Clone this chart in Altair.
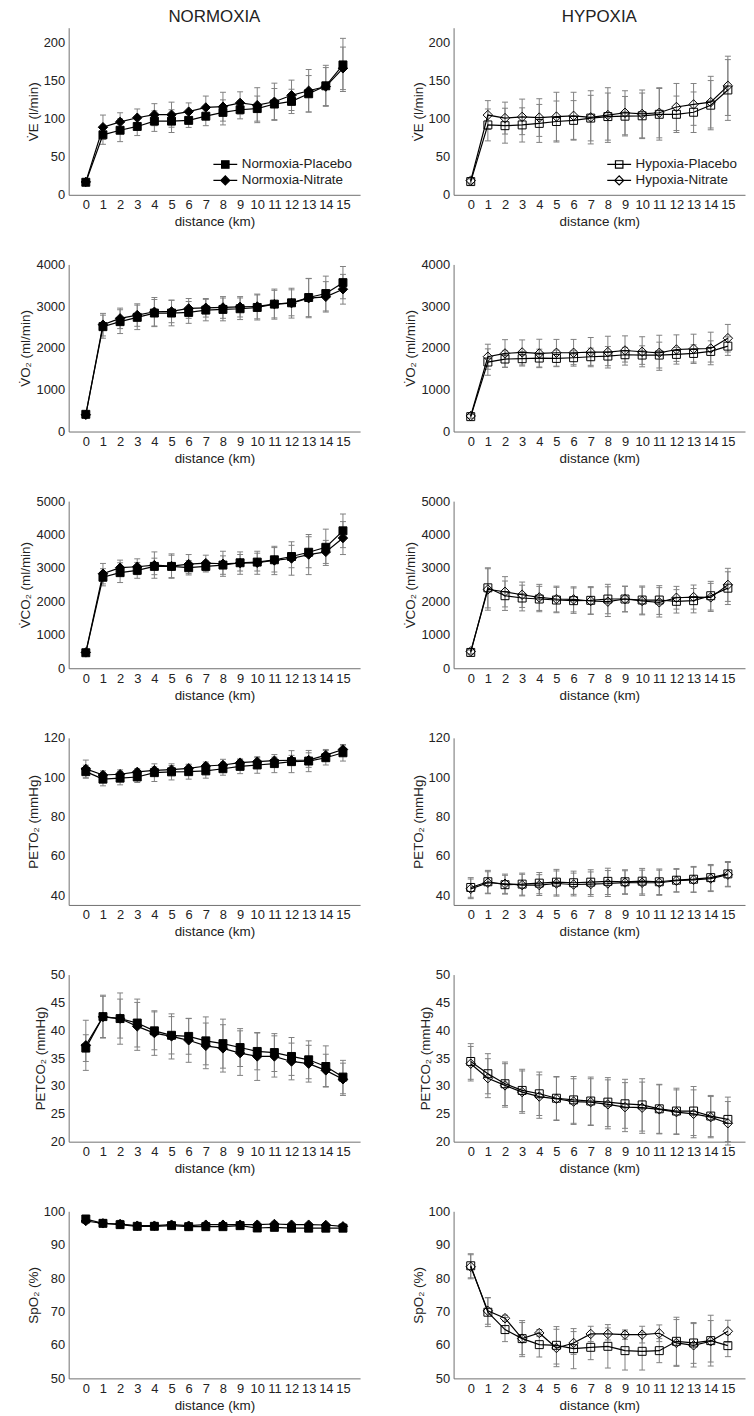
import altair as alt
import pandas as pd

KM = list(range(16))

# ---------------- data ----------------
ve_norm_pla = [16.5, 79, 85, 90, 97, 97, 98, 103.5, 108.5, 112, 113.5, 119.5, 123, 133, 143.5, 171]
ve_norm_pla_sd = [3.5, 12.5, 15, 12, 13.5, 15, 9.3, 12.5, 16.5, 12, 16.5, 20.5, 16, 24, 27, 35]
ve_norm_nit = [17, 89, 96, 101.5, 105.5, 105.5, 109.5, 115, 116, 121, 118, 122.5, 131, 137, 142.5, 166.5]
ve_norm_nit_sd = [4, 16, 12, 11.5, 14.5, 16.5, 11.5, 15, 19, 14.6, 23, 24.5, 20, 28, 25, 28]

ve_hyp_pla = [17.4, 92, 91, 92, 94, 96.5, 98, 101, 103, 103.5, 104, 106, 106, 108.7, 118, 138]
ve_hyp_pla_sd = [3.4, 21, 23, 22.5, 25, 27, 26, 30, 31, 26, 30, 34, 24, 26.7, 32.4, 40]
ve_hyp_nit = [18.7, 105, 101, 102.6, 101.7, 103, 104, 102, 105, 108, 106.5, 108, 115.6, 119, 122, 143.5]
ve_hyp_nit_sd = [3.3, 19, 21, 23.4, 24.8, 32, 31, 35, 36, 29, 31.5, 33, 31, 27.5, 34, 39]

vo2_norm_pla = [412, 2510, 2630, 2733, 2836, 2836, 2851, 2907, 2923, 2939, 2970, 3050, 3081, 3208, 3303, 3564]
vo2_norm_pla_sd = [70, 276, 285, 293, 325, 306, 261, 257, 273, 259, 300, 330, 311, 458, 417, 386]
vo2_norm_nit = [400, 2558, 2709, 2788, 2867, 2875, 2947, 2962, 2970, 2986, 2994, 3050, 3073, 3192, 3224, 3406]
vo2_norm_nit_sd = [70, 270, 245, 269, 341, 270, 237, 222, 260, 244, 296, 360, 357, 468, 364, 356]

vo2_hyp_pla = [356, 1663, 1735, 1743, 1758, 1750, 1766, 1790, 1806, 1838, 1830, 1830, 1846, 1869, 1917, 2044]
vo2_hyp_pla_sd = [50, 316, 198, 175, 213, 198, 166, 206, 230, 175, 222, 309, 167, 206, 254, 222]
vo2_hyp_nit = [372, 1790, 1869, 1893, 1869, 1885, 1885, 1901, 1901, 1940, 1909, 1885, 1964, 1980, 1988, 2234]
vo2_hyp_nit_sd = [50, 300, 330, 300, 340, 320, 320, 350, 380, 350, 360, 420, 350, 350, 390, 330]

vco2_norm_pla = [464, 2722, 2860, 2929, 3047, 3047, 3008, 3047, 3087, 3156, 3176, 3245, 3343, 3471, 3619, 4112]
vco2_norm_pla_sd = [64, 257, 296, 237, 247, 335, 217, 167, 276, 247, 267, 365, 335, 464, 543, 503]
vco2_norm_nit = [474, 2830, 3008, 3037, 3087, 3057, 3116, 3146, 3126, 3146, 3156, 3225, 3284, 3402, 3481, 3895]
vco2_norm_nit_sd = [66, 306, 227, 237, 394, 365, 286, 237, 375, 335, 345, 424, 500, 600, 345, 493]

vco2_hyp_pla = [473, 2406, 2170, 2101, 2071, 2041, 2022, 2032, 2071, 2071, 2041, 2041, 2002, 2022, 2170, 2396]
vco2_hyp_pla_sd = [70, 600, 440, 385, 380, 380, 380, 410, 440, 385, 420, 430, 350, 365, 430, 490]
vco2_hyp_nit = [503, 2357, 2288, 2199, 2120, 2071, 2061, 2012, 1992, 2071, 2012, 1972, 2110, 2130, 2120, 2495]
vco2_hyp_nit_sd = [70, 620, 453, 380, 390, 385, 375, 400, 445, 380, 415, 440, 340, 360, 420, 495]

peto2_norm_pla = [102.8, 99.0, 99.5, 100.1, 102.3, 102.7, 102.8, 103.2, 104.3, 105.5, 106.2, 106.9, 107.9, 108.2, 109.9, 112.4]
peto2_norm_pla_sd = [3.3, 3.4, 3.4, 2.8, 4.5, 4.1, 3.8, 3.7, 3.3, 3.7, 4.2, 4.6, 5.6, 5.4, 3.7, 4.2]
peto2_norm_nit = [104.2, 101.1, 101.5, 102.7, 103.5, 103.8, 104.5, 105.7, 106.2, 107.4, 107.9, 108.4, 108.6, 108.7, 111.2, 114.1]
peto2_norm_nit_sd = [4.5, 2.1, 2.2, 1.6, 1.7, 2.1, 1.7, 2.0, 2.9, 1.7, 2.0, 1.8, 2.5, 3.7, 2.9, 2.2]

peto2_hyp_pla = [43.9, 46.8, 45.3, 45.6, 46.1, 46.6, 46.3, 46.6, 47.0, 46.8, 47.1, 46.8, 47.6, 48.1, 48.9, 50.8]
peto2_hyp_pla_sd = [5.0, 5.8, 4.8, 5.6, 5.4, 6.5, 5.9, 6.3, 6.7, 6.1, 6.5, 6.5, 5.9, 6.5, 6.7, 6.3]
peto2_hyp_nit = [43.2, 46.3, 45.8, 45.1, 45.1, 45.9, 45.4, 45.6, 45.9, 46.4, 46.3, 46.3, 47.3, 47.8, 48.4, 50.4]
peto2_hyp_nit_sd = [5.0, 5.6, 4.9, 5.5, 5.3, 6.4, 5.8, 6.2, 6.6, 6.0, 6.4, 6.4, 5.8, 6.4, 6.6, 6.2]

petco2_norm_pla = [36.8, 42.45, 42.1, 41.3, 39.9, 39.1, 38.9, 38.1, 37.6, 36.9, 36.2, 36.0, 35.3, 34.7, 33.5, 31.6]
petco2_norm_pla_sd = [2.4, 3.85, 3.5, 4.3, 3.4, 3.35, 3.2, 4.3, 4.4, 3.4, 3.3, 3.4, 3.4, 3.4, 3.7, 3.0]
petco2_norm_nit = [37.3, 42.4, 42.1, 40.7, 39.5, 38.9, 38.2, 37.2, 36.75, 35.9, 35.3, 35.3, 34.4, 34.0, 32.8, 31.2]
petco2_norm_nit_sd = [4.5, 3.7, 4.6, 4.3, 4.0, 4.05, 3.95, 4.1, 4.25, 4.0, 4.3, 3.7, 3.3, 3.3, 2.9, 2.9]

petco2_hyp_pla = [34.4, 32.2, 30.4, 29.2, 28.6, 27.8, 27.5, 27.3, 27.1, 26.8, 26.6, 25.9, 25.5, 25.5, 24.6, 24.0]
petco2_hyp_pla_sd = [3.2, 3.6, 3.9, 3.8, 3.9, 3.9, 4.2, 4.3, 4.4, 4.4, 4.7, 4.4, 4.1, 4.4, 3.7, 4.0]
petco2_hyp_nit = [34.0, 31.4, 30.1, 28.9, 28.1, 27.7, 27.2, 27.1, 26.7, 26.2, 26.1, 25.8, 25.3, 25.0, 24.4, 23.3]
petco2_hyp_nit_sd = [3.1, 3.5, 3.9, 3.8, 3.9, 3.9, 4.1, 4.2, 4.4, 4.4, 4.6, 4.4, 4.0, 4.3, 3.7, 3.9]

spo2_norm_pla = [97.7, 96.4, 96.0, 95.5, 95.5, 95.7, 95.4, 95.4, 95.4, 95.7, 95.0, 95.2, 94.95, 94.95, 94.95, 94.95]
spo2_norm_pla_sd = [0.8, 1.0, 1.1, 0.6, 0.9, 0.6, 0.6, 0.6, 0.6, 0.6, 0.8, 0.7, 0.7, 0.6, 0.6, 0.8]
spo2_norm_nit = [97.1, 96.4, 96.2, 95.7, 95.7, 96.0, 95.7, 96.0, 96.0, 96.0, 96.0, 96.2, 96.0, 96.0, 95.9, 95.5]
spo2_norm_nit_sd = [0.8, 1.0, 1.1, 0.6, 0.9, 0.6, 0.6, 0.6, 0.6, 0.6, 0.8, 0.7, 0.7, 0.6, 0.6, 0.8]

spo2_hyp_pla = [83.7, 69.8, 64.6, 61.9, 60.1, 59.9, 58.9, 59.3, 59.6, 58.3, 58.1, 58.3, 61.1, 60.6, 61.3, 59.8]
spo2_hyp_pla_sd = [3.6, 4.3, 3.6, 5.4, 3.7, 5.6, 6.0, 3.7, 6.5, 5.8, 5.6, 3.6, 7.2, 6.1, 7.6, 3.3]
spo2_hyp_nit = [83.4, 70.2, 68.0, 61.9, 63.6, 59.1, 60.6, 63.3, 63.3, 63.1, 63.1, 63.5, 60.6, 59.9, 61.1, 64.1]
spo2_hyp_nit_sd = [3.6, 4.0, 0.9, 4.8, 1.0, 5.6, 3.4, 2.3, 1.8, 1.4, 2.5, 2.5, 7.0, 6.5, 6.2, 3.3]

# ---------------- styling ----------------
FONT = "Liberation Sans"
TEXT = "#222222"
GRAY = "#808080"
W, H = 293, 168
# legend glyphs: a short line with the marker in its middle (box is 17 px, line 24 px)
SQ_LEG = "M-1.41,0H1.41M-0.44,-0.44H0.44V0.44H-0.44Z"
DI_LEG = "M-1.41,0H1.41M-0.53,0L0,-0.53L0.53,0L0,0.53Z"


def panel(cond, ylabel, ydom, yticks, pm, ps, nm, ns, title=None, legend=False):
    names = [f"{cond}-Placebo", f"{cond}-Nitrate"]
    rows = []
    for name, m, s in ((names[0], pm, ps), (names[1], nm, ns)):
        for k, v, e in zip(KM, m, s):
            rows.append({"km": k, "value": v, "sd": e, "series": name})
    df = pd.DataFrame(rows)
    base = alt.Chart(df).transform_calculate(
        lo="datum.value - datum.sd", hi="datum.value + datum.sd"
    )
    xax = alt.Axis(values=KM, title="distance (km)", labelAngle=0, labelOverlap=False,
                   labelFlush=False, labelBound=False, format="d")
    yax = alt.Axis(values=yticks, title=ylabel, labelOverlap=False, format="d")
    xs = alt.Scale(domain=[-1, 16], nice=False, zero=False)
    ys = alt.Scale(domain=ydom, nice=False, zero=False)
    x = alt.X("km:Q", scale=xs, axis=xax)

    def Y(field):
        return alt.Y(f"{field}:Q", scale=ys, axis=yax)

    rule = base.mark_rule(color=GRAY, strokeWidth=1).encode(x=x, y=Y("lo"), y2="hi:Q")
    cap_lo = base.mark_tick(orient="horizontal", size=6, thickness=1, color=GRAY, opacity=1).encode(x=x, y=Y("lo"))
    cap_hi = base.mark_tick(orient="horizontal", size=6, thickness=1, color=GRAY, opacity=1).encode(x=x, y=Y("hi"))
    line = base.mark_line(color="black", strokeWidth=1.2).encode(x=x, y=Y("value"), detail="series:N", order="km:Q")
    if cond == "Normoxia":
        pkw = dict(filled=True, fill="black", stroke="black", strokeWidth=1, opacity=1)
    else:
        pkw = dict(filled=False, stroke="black", strokeWidth=1, opacity=1)
    pts = base.mark_point(**pkw).encode(
        x=x, y=Y("value"),
        shape=alt.Shape("series:N", scale=alt.Scale(domain=names, range=["square", "diamond"]), legend=None),
        size=alt.Size("series:N", scale=alt.Scale(domain=names, range=[64, 90]), legend=None),
    )
    layers = [rule, cap_lo, cap_hi, line, pts]
    if legend:
        lkw = dict(pkw)
        lkw["strokeWidth"] = 1.2
        leg = base.transform_filter("datum.km < -5").mark_point(**lkw).encode(
            x=x, y=Y("value"),
            shape=alt.Shape(
                "series:N",
                scale=alt.Scale(domain=names, range=[SQ_LEG, DI_LEG]),
                legend=alt.Legend(
                    title=None, orient="bottom-right", offset=7, padding=0,
                    labelFont=FONT, labelFontSize=13.5, labelColor=TEXT, labelOffset=7,
                    symbolSize=289, symbolStrokeWidth=1.2, symbolOpacity=1, rowPadding=0,
                ),
            ),
        )
        layers.append(leg)
    ch = alt.layer(*layers).resolve_scale(shape="independent", size="independent")
    props = dict(width=W, height=H)
    if title:
        props["title"] = alt.TitleParams(text=title, fontSize=17, font=FONT, fontWeight="normal",
                                         color=TEXT, anchor="middle", frame="group", offset=2)
    return ch.properties(**props)


charts = [
    panel("Normoxia", "V\u0307E (l/min)", [0, 220], [0, 50, 100, 150, 200],
          ve_norm_pla, ve_norm_pla_sd, ve_norm_nit, ve_norm_nit_sd, title="NORMOXIA", legend=True),
    panel("Hypoxia", "V\u0307E (l/min)", [0, 220], [0, 50, 100, 150, 200],
          ve_hyp_pla, ve_hyp_pla_sd, ve_hyp_nit, ve_hyp_nit_sd, title="HYPOXIA", legend=True),
    panel("Normoxia", "V\u0307O\u2082 (ml/min)", [0, 4000], [0, 1000, 2000, 3000, 4000],
          vo2_norm_pla, vo2_norm_pla_sd, vo2_norm_nit, vo2_norm_nit_sd),
    panel("Hypoxia", "V\u0307O\u2082 (ml/min)", [0, 4000], [0, 1000, 2000, 3000, 4000],
          vo2_hyp_pla, vo2_hyp_pla_sd, vo2_hyp_nit, vo2_hyp_nit_sd),
    panel("Normoxia", "V\u0307CO\u2082 (ml/min)", [0, 5000], [0, 1000, 2000, 3000, 4000, 5000],
          vco2_norm_pla, vco2_norm_pla_sd, vco2_norm_nit, vco2_norm_nit_sd),
    panel("Hypoxia", "V\u0307CO\u2082 (ml/min)", [0, 5000], [0, 1000, 2000, 3000, 4000, 5000],
          vco2_hyp_pla, vco2_hyp_pla_sd, vco2_hyp_nit, vco2_hyp_nit_sd),
    panel("Normoxia", "PETO\u2082 (mmHg)", [35, 120], [40, 60, 80, 100, 120],
          peto2_norm_pla, peto2_norm_pla_sd, peto2_norm_nit, peto2_norm_nit_sd),
    panel("Hypoxia", "PETO\u2082 (mmHg)", [35, 120], [40, 60, 80, 100, 120],
          peto2_hyp_pla, peto2_hyp_pla_sd, peto2_hyp_nit, peto2_hyp_nit_sd),
    panel("Normoxia", "PETCO\u2082 (mmHg)", [20, 50], [20, 25, 30, 35, 40, 45, 50],
          petco2_norm_pla, petco2_norm_pla_sd, petco2_norm_nit, petco2_norm_nit_sd),
    panel("Hypoxia", "PETCO\u2082 (mmHg)", [20, 50], [20, 25, 30, 35, 40, 45, 50],
          petco2_hyp_pla, petco2_hyp_pla_sd, petco2_hyp_nit, petco2_hyp_nit_sd),
    panel("Normoxia", "SpO\u2082 (%)", [50, 100], [50, 60, 70, 80, 90, 100],
          spo2_norm_pla, spo2_norm_pla_sd, spo2_norm_nit, spo2_norm_nit_sd),
    panel("Hypoxia", "SpO\u2082 (%)", [50, 100], [50, 60, 70, 80, 90, 100],
          spo2_hyp_pla, spo2_hyp_pla_sd, spo2_hyp_nit, spo2_hyp_nit_sd),
]

chart = (
    alt.concat(*charts, columns=2, spacing={"row": 29, "column": 42})
    .resolve_scale(x="independent", y="independent", shape="independent", size="independent")
    .properties(padding={"left": 10, "top": -5, "right": 0, "bottom": 0})
    .configure_view(stroke="transparent")
    .configure_axis(
        grid=False, ticks=False, domainColor="#707070", domainWidth=1,
        labelFont=FONT, labelFontSize=13, labelColor=TEXT, labelPadding=4,
        titleFont=FONT, titleFontSize=13.5, titleFontWeight="normal", titleColor=TEXT, titlePadding=3,
    )
)

chart.save("out.html", embed_options={"renderer": "svg", "actions": False})
